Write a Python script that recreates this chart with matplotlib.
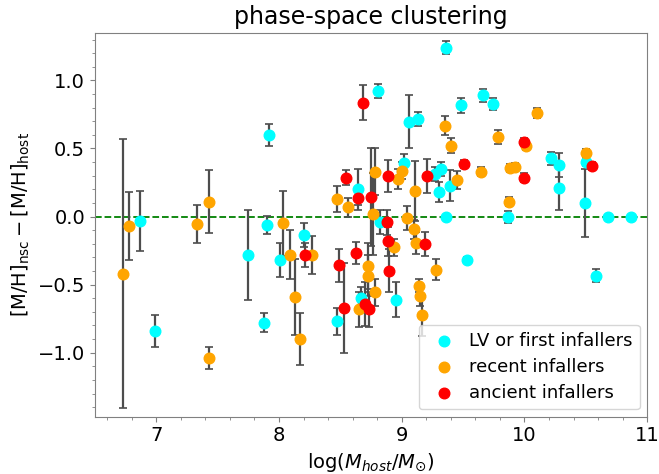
import numpy as np
import matplotlib
matplotlib.use('Agg')
import matplotlib.pyplot as plt
from matplotlib.ticker import MultipleLocator

# LV or first infallers
lv_x = [6.87, 6.99, 7.75, 7.88, 7.90, 7.92, 8.01, 8.20, 8.47, 8.64, 8.665, 8.81,
        8.82, 8.95, 9.02, 9.06, 9.13, 9.27, 9.30, 9.32, 9.36, 9.36, 9.39, 9.48,
        9.53, 9.66, 9.74, 9.87, 10.22, 10.28, 10.28, 10.49, 10.50, 10.58, 10.68, 10.87]
lv_y = [-0.03, -0.84, -0.28, -0.78, -0.06, 0.60, -0.32, -0.134, -0.77, 0.20, -0.60, 0.92,
        -0.04, -0.61, 0.39, 0.695, 0.715, 0.31, 0.18, 0.35, 1.24, -0.005, 0.227, 0.817,
        -0.317, 0.89, 0.824, -0.005, 0.427, 0.378, 0.208, 0.098, 0.402, -0.434, 0.0, -0.005]
lv_err = [0.22, 0.12, 0.33, 0.07, 0.065, 0.08, 0.125, 0.088, 0.10, 0.15, 0.08, 0.05,
          0.09, 0.13, 0.07, 0.195, 0.05, 0.05, 0.077, 0.05, 0.05, 0.0, 0.113, 0.055,
          0.02, 0.05, 0.045, 0.045, 0.05, 0.09, 0.16, 0.25, 0.03, 0.045, 0.0, 0.0]

# recent infallers
rec_x = [6.73, 6.78, 7.33, 7.43, 7.43, 8.03, 8.086, 8.127, 8.168, 8.27, 8.47, 8.56,
         8.65, 8.725, 8.725, 8.77, 8.78, 8.78, 8.94, 8.97, 9.005, 9.045, 9.10, 9.11,
         9.12, 9.14, 9.146, 9.168, 9.282, 9.35, 9.40, 9.45, 9.643, 9.787, 9.874, 9.88,
         9.926, 10.015, 10.105, 10.50]
rec_y = [-0.42, -0.073, -0.053, 0.11, -1.04, -0.05, -0.28, -0.59, -0.90, -0.28, 0.13, 0.068,
         -0.683, -0.366, -0.434, 0.02, 0.33, -0.556, -0.227, 0.276, 0.337, -0.01, -0.092, 0.188,
         -0.195, -0.507, -0.585, -0.726, -0.39, 0.666, 0.52, 0.268, 0.33, 0.583, 0.11, 0.359,
         0.366, 0.52, 0.76, 0.468]
rec_err = [0.99, 0.25, 0.14, 0.23, 0.08, 0.24, 0.18, 0.28, 0.19, 0.14, 0.097, 0.07,
           0.13, 0.17, 0.15, 0.30, 0.17, 0.10, 0.06, 0.073, 0.06, 0.09, 0.07, 0.22,
           0.08, 0.05, 0.07, 0.15, 0.08, 0.07, 0.057, 0.063, 0.03, 0.05, 0.035, 0.03,
           0.03, 0.03, 0.035, 0.03]

# ancient infallers
anc_x = [8.209, 8.488, 8.529, 8.543, 8.63, 8.643, 8.684, 8.698, 8.73, 8.752, 8.88, 8.888,
         8.888, 8.90, 9.192, 9.208, 9.507, 9.994, 9.994, 10.548]
anc_y = [-0.28, -0.358, -0.67, 0.285, -0.268, 0.134, 0.837, -0.641, -0.683, 0.146, -0.044, 0.298,
         -0.183, -0.397, -0.202, 0.298, 0.383, 0.549, 0.286, 0.371]
anc_err = [0.088, 0.12, 0.33, 0.055, 0.078, 0.05, 0.13, 0.16, 0.13, 0.36, 0.09, 0.116,
           0.105, 0.16, 0.085, 0.122, 0.03, 0.03, 0.03, 0.03]

groups = [(lv_x, lv_y, lv_err, 'cyan', 'LV or first infallers'),
          (rec_x, rec_y, rec_err, 'orange', 'recent infallers'),
          (anc_x, anc_y, anc_err, 'red', 'ancient infallers')]

fig = plt.figure(figsize=(6.59, 4.74), dpi=100)
ax = fig.add_axes([0.144, 0.121, 0.838, 0.810])

for xx, yy, ee, col, lab in groups:
    ax.errorbar(xx, yy, yerr=ee, fmt='none', ecolor='0.3', elinewidth=1.6,
                capsize=3, capthick=1.2, zorder=2)
for xx, yy, ee, col, lab in groups:
    ax.scatter(xx, yy, s=58, color=col, label=lab, zorder=3)

ax.axhline(0, color='green', ls='--', lw=1.3, zorder=1)

ax.set_xlim(6.5, 11)
ax.set_ylim(-1.47, 1.35)
ax.xaxis.set_major_locator(MultipleLocator(1))
ax.xaxis.set_minor_locator(MultipleLocator(0.2))
ax.yaxis.set_major_locator(MultipleLocator(0.5))
ax.yaxis.set_minor_locator(MultipleLocator(0.1))
ax.tick_params(labelsize=14)
for sp in ax.spines.values():
    sp.set_color('0.5')
ax.tick_params(which='both', color='0.5')

ax.set_title('phase-space clustering', fontsize=17)
ax.set_xlabel(r'log($M_{host}/M_{\odot}$)', fontsize=14)
ax.set_ylabel(r'$[\mathrm{M/H}]_{\rm nsc} - [\mathrm{M/H}]_{\rm host}$', fontsize=14)
ax.legend(loc='lower right', fontsize=13, handletextpad=0.4, labelspacing=0.45,
          borderaxespad=0.4)

fig.savefig('out.png', dpi=100)
